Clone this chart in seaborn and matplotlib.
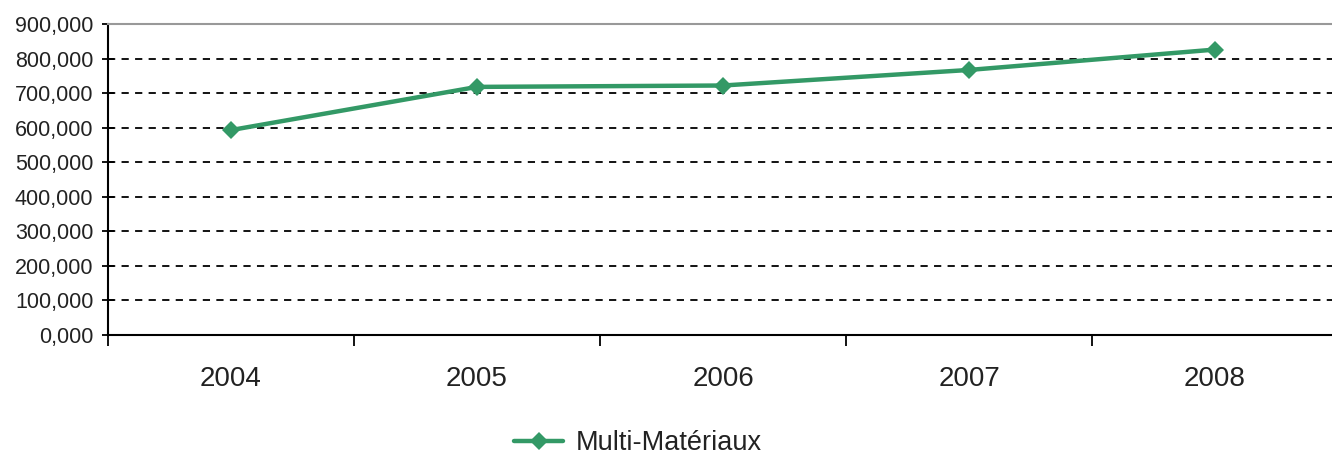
import matplotlib
matplotlib.use("Agg")
import matplotlib.pyplot as plt
import seaborn as sns
import pandas as pd
from matplotlib.ticker import FixedLocator, FuncFormatter

years = ["2004", "2005", "2006", "2007", "2008"]
values = [593000, 718000, 722000, 767000, 826000]
series_name = "Multi-Matériaux"

sns.set_style("white")
plt.rcParams['font.family'] = ['Liberation Sans', 'DejaVu Sans']

df = pd.DataFrame({"year": years, "value": values, "serie": series_name})

W, H = 1332, 455
fig = plt.figure(figsize=(W / 100, H / 100), dpi=100)
ax = fig.add_axes([108 / W, 1 - 335 / H, 1230 / W, 311 / H])

sns.lineplot(data=df, x="year", y="value", hue="serie", palette=["#339966"],
             marker="D", markersize=9, markeredgewidth=0, linewidth=3.2,
             ax=ax, legend=True)

ax.set_xlim(-0.5, 4.5)
ax.set_ylim(0, 900000)
ax.set_yticks(range(0, 900001, 100000))
ax.yaxis.set_major_formatter(FuncFormatter(lambda v, p: f"{int(v/1000)},000"))
ax.set_xlabel("")
ax.set_ylabel("")

for y in range(100000, 900000, 100000):
    ax.axhline(y, color="black", linestyle=(0, (4, 3.5)), linewidth=1.3, zorder=0)

ax.tick_params(which="both", bottom=True, left=True)
ax.xaxis.set_minor_locator(FixedLocator([i - 0.5 for i in range(6)]))
ax.tick_params(axis="x", which="major", length=0, labelsize=20, pad=22, colors="#222222")
ax.tick_params(axis="x", which="minor", length=8, width=1.3, direction="out", color="black")
ax.tick_params(axis="y", which="major", length=9, width=1.3, direction="inout",
               labelsize=15.5, pad=6, colors="black", labelcolor="#222222")

for side in ["left", "bottom"]:
    ax.spines[side].set_color("black")
    ax.spines[side].set_linewidth(1.5)
ax.spines["top"].set_color("#999999")
ax.spines["top"].set_linewidth(1.5)
ax.spines["right"].set_visible(False)

handles, labels = ax.get_legend_handles_labels()
ax.legend_.remove()
fig.legend(handles, labels, loc="center", bbox_to_anchor=(638 / W, 1 - 443 / H),
           frameon=False, fontsize=19.5, handlelength=1.8, handletextpad=0.45,
           labelcolor="#222222")

fig.savefig("out.png", dpi=100)
